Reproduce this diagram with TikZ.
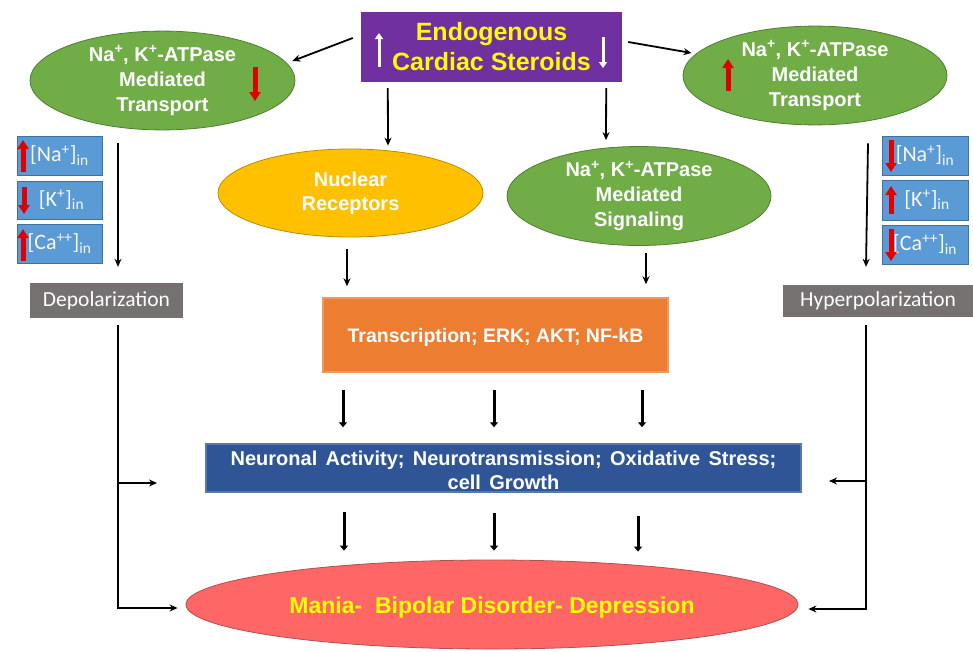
\documentclass[tikz,border=0pt]{standalone}
\usepackage{fontspec}
\setmainfont{Liberation Sans}
\newfontfamily\calfont{Carlito}
\newfontfamily\widefont[WordSpace=1.5]{Liberation Sans}
\usetikzlibrary{shapes.geometric,arrows.meta,calc}
\definecolor{cgreen}{HTML}{70AD47}
\definecolor{cgreenline}{HTML}{507E32}
\definecolor{cpurple}{HTML}{7030A0}
\definecolor{cyellow}{HTML}{FFFF00}
\definecolor{cgold}{HTML}{FFC000}
\definecolor{cgoldline}{HTML}{BC8C00}
\definecolor{corange}{HTML}{ED7D31}
\definecolor{cblue}{HTML}{2F5597}
\definecolor{cred}{HTML}{FF6666}
\definecolor{credline}{HTML}{B05050}
\definecolor{csky}{HTML}{5B9BD5}
\definecolor{cskyline}{HTML}{41719C}
\definecolor{cgray}{HTML}{767171}
\definecolor{carrowred}{HTML}{E00000}
\begin{document}
\begin{tikzpicture}[x=1pt,y=-1pt,
  topbox/.style={rectangle, fill=cpurple, minimum width=261pt, minimum height=70pt, inner sep=0pt,
    align=center, text=cyellow, font=\fontsize{25}{30}\selectfont\bfseries},
  gell/.style={ellipse, fill=cgreen, draw=cgreenline, line width=0.8pt, inner sep=0pt,
    minimum width=265pt, minimum height=87pt, align=center, text=white,
    font=\fontsize{20}{25}\selectfont\bfseries},
  yell/.style={ellipse, fill=cgold, draw=cgoldline, line width=0.8pt, inner sep=0pt,
    minimum width=265pt, minimum height=88pt, align=center, text=white,
    font=\fontsize{20}{24}\selectfont\bfseries},
  obox/.style={rectangle, fill=corange, draw=corange!80, line width=1.5pt, minimum width=345pt, minimum height=74pt,
    inner sep=0pt},
  otext/.style={text=white, font=\fontsize{19.5}{24}\selectfont\bfseries, align=center},
  bbox/.style={rectangle, fill=cblue, draw=cblue!80, line width=1.5pt, minimum width=595pt, minimum height=48pt,
    inner sep=0pt},
  btext/.style={text=white, font=\widefont\fontsize{20}{24}\selectfont\bfseries, align=center},
  rell/.style={ellipse, fill=cred, draw=credline, line width=0.8pt, inner sep=0pt,
    minimum width=612pt, minimum height=89pt},
  rtext/.style={text=cyellow, font=\fontsize{23}{28}\selectfont\bfseries},
  ionbox/.style={rectangle, fill=csky, draw=cskyline, line width=0.6pt, minimum width=85pt, minimum height=39pt,
    inner sep=0pt, text=white!94!gray, font=\calfont\fontsize{22}{26}\selectfont},
  graybox/.style={rectangle, fill=cgray, minimum height=34pt, inner sep=0pt, text=white,
    font=\calfont\fontsize{21.5}{26}\selectfont},
  arr/.style={draw=black, line width=1.8pt, -{Stealth[length=8pt,width=7pt]}},
  tarr/.style={draw=black, line width=3pt, -{Triangle[length=5pt,width=8pt]}},
  rarr/.style={draw=carrowred, line width=5pt, -{Triangle[length=9pt,width=11pt]}},
  warr/.style={draw=white, line width=3pt, -{Triangle[length=6pt,width=8pt]}}
]
\useasboundingbox (0,0) rectangle (973,651);
\fill[white] (0,0) rectangle (973,651);

% nodes
\node[topbox] (top) at (491.5,47) {Endogenous\\Cardiac Steroids};
\node[gell] (ltrans) at (162.5,80.5) {Na\textsuperscript{+}, K\textsuperscript{+}-ATPase\\Mediated\\Transport};
\node[gell, minimum width=264pt] (rtrans) at (815,75.5) {Na\textsuperscript{+}, K\textsuperscript{+}-ATPase\\Mediated\\Transport};
\node[yell] (nuc) at (350.5,193) {Nuclear\\Receptors};
\node[gell, minimum width=264pt, minimum height=88pt] (sig) at (639,196) {Na\textsuperscript{+}, K\textsuperscript{+}-ATPase\\Mediated\\Signaling};
\node[obox, label={[otext, yshift=-2.5pt]center:Transcription; ERK; AKT; NF-kB}] (tra) at (495.5,335) {};
\node[bbox, label={[btext, yshift=-2.5pt]center:Neuronal Activity; Neurotransmission; Oxidative Stress;\\cell Growth}] (neu) at (503.5,468) {};
\node[rell, label={[rtext, yshift=-3pt]center:Mania-\ \ Bipolar Disorder- Depression}] (red) at (492,604.5) {};

\node[ionbox] (lna) at (59.5,155.5) {[Na\textsuperscript{+}]\textsubscript{in}};
\node[ionbox, minimum height=38pt] (lk) at (59.5,200) {\hspace*{4pt}[K\textsuperscript{+}]\textsubscript{in}};
\node[ionbox] (lca) at (59.5,243.5) {[Ca\textsuperscript{++}]\textsubscript{in}};
\node[ionbox, minimum width=86pt] (rna) at (925,155.5) {[Na\textsuperscript{+}]\textsubscript{in}};
\node[ionbox, minimum width=86pt, minimum height=40pt] (rk) at (925,200) {\hspace*{4pt}[K\textsuperscript{+}]\textsubscript{in}};
\node[ionbox, minimum width=86pt] (rca) at (925,244.5) {[Ca\textsuperscript{++}]\textsubscript{in}};

\node[graybox, minimum width=153pt, minimum height=35pt] (depol) at (106.5,300.5) {Depolarization};
\node[graybox, minimum width=190pt, minimum height=32pt] (hyper) at (878,301) {Hyperpolarization};

% small up/down arrows
\draw[warr] (379,67) -- (379,33);
\draw[warr] (603,37) -- (603,68);
\draw[rarr] (255,67) -- (255,101);
\draw[rarr] (728,91) -- (728,59);
\draw[rarr] (23,172) -- (23,140);
\draw[rarr] (24,187) -- (24,214);
\draw[rarr] (23,261) -- (23,229);
\draw[rarr] (891,140) -- (891,172);
\draw[rarr] (891,214) -- (891,186);
\draw[rarr] (891,229) -- (891,261);

% connectors from the top box
\draw[arr] ($(top.west)+(-8,-9)$) -- ($(ltrans.east)+(-3,-19.5)$);
\draw[arr] ($(top.east)+(6,-5)$) -- ($(rtrans.west)+(9,-22.5)$);
\draw[arr] ($(top.south west)+(27,6)$) -- ($(nuc.north)+(37.5,-3)$);
\draw[arr] ($(top.south east)+(-16,6)$) -- ($(sig.north)+(-33,-6)$);

% to transcription
\draw[arr] ($(nuc.south)+(-3.5,12)$) -- ($(tra.north)+(-148.5,-11)$);
\draw[arr] ($(sig.south)+(7,7)$) -- ($(tra.north)+(150.5,-13)$);

% transcription -> neuronal
\draw[tarr] ($(tra.south)+(-152.5,17)$) -- ($(neu.north)+(-160.5,-16)$);
\draw[tarr] ($(tra.south)+(-1.5,17)$) -- ($(neu.north)+(-9.5,-16)$);
\draw[tarr] ($(tra.south)+(146.5,17)$) -- ($(neu.north)+(138.5,-16)$);

% neuronal -> red
\draw[tarr] ($(neu.south)+(-159.5,19)$) -- ($(red.north)+(-148,-9)$);
\draw[tarr] ($(neu.south)+(-9.5,20)$) -- ($(red.north)+(2,-9)$);
\draw[tarr] ($(neu.south)+(134.5,23)$) -- ($(red.north)+(146,-8)$);

% left pathway
\draw[arr] ($(ltrans.south)+(-44.5,13)$) -- ($(depol.north)+(11.5,-16)$);
\coordinate (lbs) at ($(depol.south)+(11.5,7)$);
\coordinate (lbm) at (118,483);
\coordinate (lbe) at (157,483);
\draw[arr] (lbs) |- ($(red.west)+(-8,3.5)$);
\draw[arr] (lbm) -- (lbe);

% right pathway
\draw[arr] ($(rtrans.south)+(53,18)$) -- ($(hyper.north)+(-12,-18)$);
\coordinate (rbs) at ($(hyper.south)+(-12,8)$);
\coordinate (rbm) at (866,481);
\coordinate (rbe) at (829,481);
\draw[arr] (rbs) |- ($(red.east)+(10,4.5)$);
\draw[arr] (rbm) -- (rbe);
\end{tikzpicture}
\end{document}
